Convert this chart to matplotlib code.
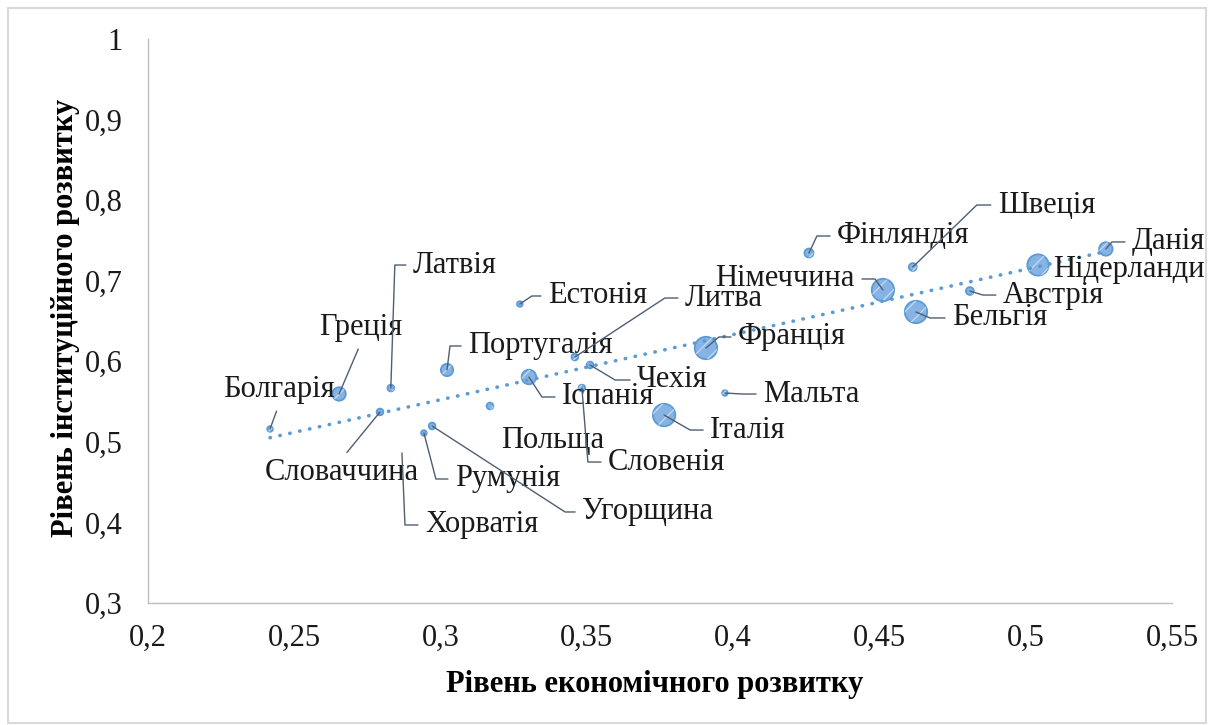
import numpy as np
import matplotlib
matplotlib.use("Agg")
import matplotlib.pyplot as plt
from matplotlib.ticker import FuncFormatter, MultipleLocator
from matplotlib.patches import Rectangle

plt.rcParams['font.family'] = ['Liberation Serif', 'DejaVu Serif']

# data
countries = ['Болгарія', 'Греція', 'Латвія', 'Словаччина', 'Португалія', 'Румунія',
             'Угорщина', 'Хорватія', 'Польща', 'Естонія', 'Литва', 'Чехія',
             'Іспанія', 'Словенія', 'Франція', 'Італія', 'Мальта', 'Фінляндія',
             'Швеція', 'Німеччина', 'Австрія', 'Бельгія', 'Нідерланди', 'Данія']
econ = [0.2417, 0.2653, 0.2830, 0.2793, 0.3022, 0.2943,
        0.2971, 0.2868, 0.3169, 0.3271, 0.3459, 0.3511,
        0.3302, 0.3483, 0.3907, 0.3764, 0.3972, 0.4259,
        0.4614, 0.4512, 0.4809, 0.4625, 0.5042, 0.5274]
inst = [0.5160, 0.5594, 0.5668, 0.5371, 0.5892, 0.5110,
        0.5197, 0.4862, 0.5445, 0.6711, 0.6053, 0.5954,
        0.5805, 0.5668, 0.6165, 0.5333, 0.5606, 0.7344,
        0.7170, 0.6885, 0.6872, 0.6612, 0.7195, 0.7394]
# bubble size (relative)
bubble = [25, 144, 36, 36, 121, 25,
          36, 0, 36, 25, 36, 36,
          169, 36, 400, 400, 25, 64,
          49, 400, 49, 400, 361, 144]

# label layout: offset of text anchor from point in px (right, up), alignment, leader type, stub length
label_pos = {
    'Болгарія': (9, 39, 'center', 'down', 0),
    'Греція': (22, 66, 'center', 'down', 0),
    'Латвія': (22, 123, 'left', 'stub', 18),
    'Словаччина': (-38, -61, 'center', 'up', 0),
    'Португалія': (21, 24, 'left', 'stub', 18),
    'Румунія': (31, -46, 'left', 'stub', 19),
    'Угорщина': (150, -86, 'left', 'stub', 17),
    'Хорватія': (23, -72, 'left', 'stub', 20),
    'Польща': (63, -34, 'center', None, 0),
    'Естонія': (28, 8, 'left', 'stub', 16),
    'Литва': (110, 59, 'left', 'stub', 20),
    'Чехія': (47, -15, 'left', 'stub', 22),
    'Іспанія': (33, -20, 'left', 'stub', 20),
    'Словенія': (26, -74, 'left', 'stub', 20),
    'Франція': (32, 11, 'left', 'stub', 19),
    'Італія': (46, -15, 'left', 'stub', 20),
    'Мальта': (38, -1, 'left', 'stub', 20),
    'Фінляндія': (28, 17, 'left', 'stub', 20),
    'Швеція': (85, 62, 'left', 'stub', 21),
    'Німеччина': (-28, 11, 'right', 'stub', 20),
    'Австрія': (33, -4, 'left', 'stub', 20),
    'Бельгія': (36, -6, 'left', 'stub', 22),
    'Нідерланди': (15, -4, 'left', None, 0),
    'Данія': (26, 7, 'left', 'stub', 20),
}

fig = plt.figure(figsize=(12.09, 7.25), dpi=100)
ax = fig.add_axes([148 / 1209, 1 - 603 / 725, 1024 / 1209, 564 / 725])

# outer chart border
fig.patches.append(Rectangle((8 / 1209, 2 / 725), 1198 / 1209, 715 / 725, transform=fig.transFigure,
                             fill=False, edgecolor='#D9D9D9', lw=1.5))

sizes = np.array(bubble) * 0.65
ax.scatter(econ, inst, s=sizes, facecolor='#86B3E4', edgecolor='#5B9BD5', linewidths=1.3, zorder=3)
plt.rcParams['hatch.linewidth'] = 0.9
ax.scatter(econ, inst, s=sizes, facecolor='none', edgecolor='#C3DAF2', hatch='//',
           linewidths=0, zorder=4)

# linear trendline
k, b = np.polyfit(econ, inst, 1)
xt = np.array([min(econ), max(econ)])
ax.plot(xt, k * xt + b, color='#5B9BD5', lw=2.6, linestyle=(0, (0.1, 2.7)),
        dash_capstyle='round', zorder=5)

for name, x, y in zip(countries, econ, inst):
    dx, dy, ha, kind, s = label_pos[name]
    arrow = None
    if kind == 'stub':
        sign = 1 if ha == 'left' else -1
        angB = np.degrees(np.arctan2(dy, dx - sign * s))
        arrow = dict(arrowstyle='-', color='#4F5E73', lw=1.0, shrinkA=3, shrinkB=0,
                     relpos=(0, 0.5) if ha == 'left' else (1, 0.5),
                     connectionstyle=f'angle,angleA=0,angleB={angB:.2f},rad=0')
    elif kind in ('down', 'up'):
        arrow = dict(arrowstyle='-', color='#4F5E73', lw=1.0, shrinkA=3, shrinkB=0,
                     relpos=(0.5, 0) if kind == 'down' else (0.5, 1))
    ax.annotate(name, xy=(x, y), xytext=(dx * 0.72, dy * 0.72), textcoords='offset points',
                ha=ha, va='center', fontsize=22, color='#1a1a1a', arrowprops=arrow, zorder=6)

ax.set_xlim(0.2, 0.55)
ax.set_ylim(0.3, 1.0)
ax.xaxis.set_major_locator(MultipleLocator(0.05))
ax.yaxis.set_major_locator(MultipleLocator(0.1))
fmt = FuncFormatter(lambda v, p: f'{v:g}'.replace('.', ','))
ax.xaxis.set_major_formatter(fmt)
ax.yaxis.set_major_formatter(fmt)
ax.tick_params(length=0, labelsize=22, colors='#1a1a1a')
ax.tick_params(axis='x', pad=15)
ax.tick_params(axis='y', pad=18)

for sp in ['top', 'right']:
    ax.spines[sp].set_visible(False)
for sp in ['left', 'bottom']:
    ax.spines[sp].set_color('#BFBFBF')
    ax.spines[sp].set_linewidth(1.0)

ax.set_xlabel('Рівень економічного розвитку', fontsize=22, fontweight='bold')
ax.set_ylabel('Рівень інституційного розвитку', fontsize=22, fontweight='bold')
ax.xaxis.set_label_coords(0.495, -0.145)
ax.xaxis.label.set_va('center')
ax.yaxis.set_label_coords(-0.081, 0.505)
ax.yaxis.label.set_va('center')

fig.savefig('out.png', dpi=100)
